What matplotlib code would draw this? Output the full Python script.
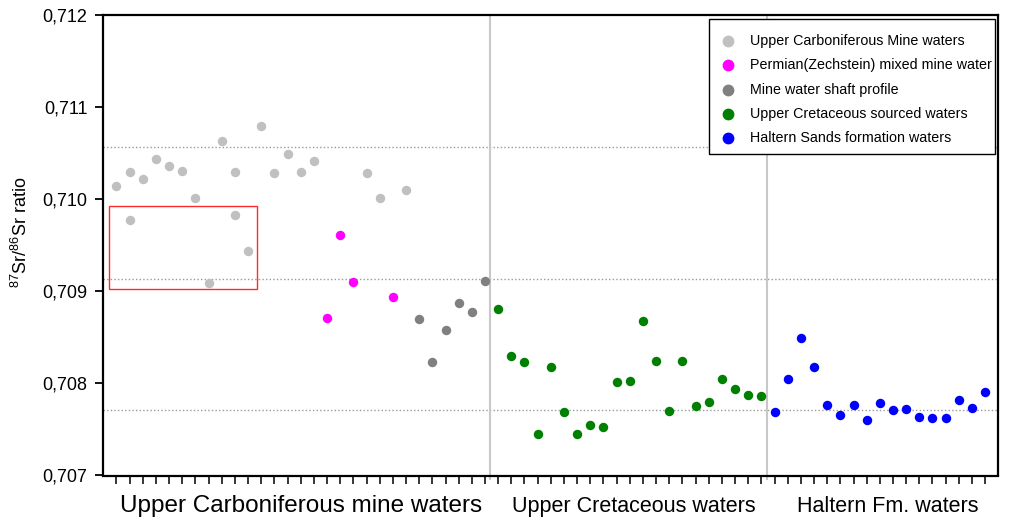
import matplotlib
matplotlib.use("Agg")
import matplotlib.pyplot as plt
from matplotlib.patches import Rectangle

plt.rcParams['font.family'] = ['Liberation Sans', 'DejaVu Sans']
plt.rcParams['mathtext.fontset'] = 'custom'
plt.rcParams['mathtext.rm'] = 'Liberation Sans'
plt.rcParams['mathtext.it'] = 'Liberation Sans:italic'

# Sample positions (index along the x axis) and 87Sr/86Sr ratios per group
carb_x = [0, 1, 1, 2, 3, 4, 5, 6, 7, 8, 9, 9, 10, 11, 12, 13, 14, 15, 19, 20, 22]
carb_y = [0.71014, 0.71030, 0.70977, 0.71022, 0.71044, 0.71036, 0.71031, 0.71001,
          0.70909, 0.71063, 0.71030, 0.70983, 0.70944, 0.71079, 0.71028, 0.71049,
          0.71030, 0.71042, 0.71028, 0.71001, 0.71010]

perm_x = [16, 17, 18, 21]
perm_y = [0.70871, 0.70961, 0.70910, 0.70894]

shaft_x = [23, 24, 25, 26, 27, 28]
shaft_y = [0.70870, 0.70823, 0.70858, 0.70887, 0.70878, 0.70911]

cret_x = list(range(29, 50))
cret_y = [0.70881, 0.70830, 0.70823, 0.70745, 0.70818, 0.70769, 0.70745, 0.70755,
          0.70753, 0.70802, 0.70803, 0.70868, 0.70824, 0.70770, 0.70824, 0.70775,
          0.70780, 0.70805, 0.70794, 0.70787, 0.70786]

halt_x = list(range(50, 67))
halt_y = [0.70769, 0.70805, 0.70849, 0.70818, 0.70777, 0.70766, 0.70777, 0.70760,
          0.70779, 0.70771, 0.70772, 0.70763, 0.70762, 0.70762, 0.70782, 0.70773,
          0.70791]

series_labels = ["Upper Carboniferous Mine waters",
                 "Permian(Zechstein) mixed mine water",
                 "Mine water shaft profile",
                 "Upper Cretaceous sourced waters",
                 "Haltern Sands formation waters"]
series_colors = ["#c0c0c0", "#ff00ff", "#808080", "#008000", "#0000ff"]

group_labels = ["Upper Carboniferous mine waters", "Upper Cretaceous waters",
                "Haltern Fm. waters"]
group_centers = [14.05, 39.3, 58.6]
group_bounds = [28.35, 49.45]

ref_levels = [0.71057, 0.70913, 0.70771]
y_ticks = [0.707, 0.708, 0.709, 0.710, 0.711, 0.712]
y_ticklabels = ["0,707", "0,708", "0,709", "0,710", "0,711", "0,712"]

highlight_x = (-0.53, 10.66)
highlight_y = (0.70902, 0.70993)

fig = plt.figure(figsize=(10.09, 5.21), dpi=100)
ax = fig.add_axes([103.3 / 1009, 1 - 475.5 / 521, 895 / 1009, 460.5 / 521])

ax.set_xlim(-1, 67)
ax.set_ylim(0.707, 0.712)

# reference levels and group separators
for lvl in ref_levels:
    ax.axhline(lvl, color="#9a9a9a", lw=1.0, ls=(0, (1, 1.6)), zorder=1)
for b in group_bounds:
    ax.axvline(b, ymin=-0.007, ymax=1, color="#c8c8c8", lw=1.5, zorder=1, clip_on=False)

# highlighted region
ax.add_patch(Rectangle((highlight_x[0], highlight_y[0]),
                       highlight_x[1] - highlight_x[0], highlight_y[1] - highlight_y[0],
                       fill=False, edgecolor="#ff2a2a", lw=1.0, zorder=2))

groups = [(carb_x, carb_y), (perm_x, perm_y), (shaft_x, shaft_y),
          (cret_x, cret_y), (halt_x, halt_y)]
for (gx, gy), col, lab in zip(groups, series_colors, series_labels):
    ax.plot(gx, gy, ls="none", marker="o", ms=6.8, mfc=col, mec=col, mew=0,
            label=lab, zorder=3)

# axes styling
for s in ax.spines.values():
    s.set_linewidth(1.6)
    s.set_color("black")
ax.set_xticks(range(0, 67))
ax.set_xticklabels([])
ax.tick_params(axis="x", direction="out", length=5.5, width=1.1, color="black")
ax.set_yticks(y_ticks)
ax.set_yticklabels(y_ticklabels, fontsize=13)
ax.tick_params(axis="y", direction="out", length=5.5, width=1.3, pad=6)

ax.set_ylabel("$^{87}$Sr/$^{86}$Sr ratio", fontsize=13, va="center", ha="center")
ax.yaxis.set_label_coords(-0.092, 0.529)

xt = ax.get_xaxis_transform()
for c, lab, fs in zip(group_centers, group_labels, [17.5, 15.5, 15.5]):
    ax.text(c, -0.079, lab, transform=xt, ha="center", va="baseline", fontsize=fs)

# legend box with entries clipped to its frame
box = Rectangle((0.6768, 0.6982), 0.9966 - 0.6768, 0.9907 - 0.6982,
                transform=ax.transAxes, facecolor="white", edgecolor="black",
                lw=1.0, zorder=5)
ax.add_patch(box)
row_y = [0.9435, 0.8914, 0.8371, 0.7844, 0.7322]
for yy, col, lab in zip(row_y, series_colors, series_labels):
    ax.plot([0.6983], [yy], transform=ax.transAxes, ls="none", marker="o", ms=8.5,
            mfc=col, mec=col, mew=0, zorder=6, clip_on=False)
    t = ax.text(0.7226, yy, lab, transform=ax.transAxes, ha="left", va="center",
                fontsize=10.3, zorder=6)
    t.set_clip_path(box)

fig.savefig("out.png", dpi=100)
